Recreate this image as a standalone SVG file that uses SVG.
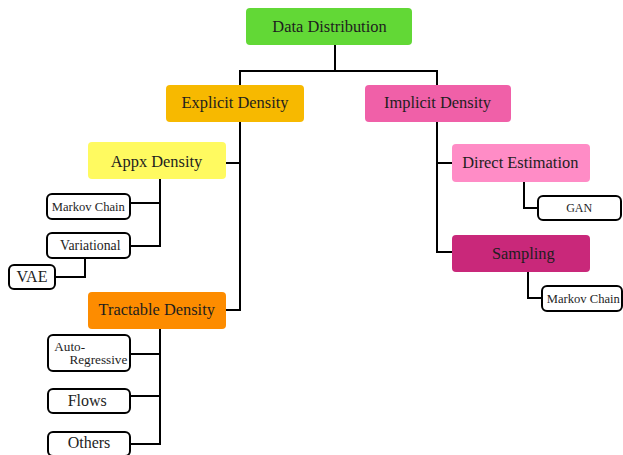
<svg xmlns="http://www.w3.org/2000/svg" width="623" height="455" viewBox="0 0 623 455">
<style>
.c{fill:none;stroke:#000;stroke-width:2}
.w{fill:#fff;stroke:#000;stroke-width:2}
text{font-family:'Liberation Serif','DejaVu Serif',serif;fill:#1e1e1e;text-anchor:middle}
.t{font-size:16.4px}
.mc{font-size:12.6px}
.v{font-size:13.8px}
.g{font-size:12px}
.m{font-size:16px}
.a{font-size:13.2px}
</style>
<rect width="623" height="455" fill="#fff"/>
<g id="connectors">
<path class="c" d="M335 45V71M240 86V71H437V86"/>
<path class="c" d="M226 163H240M240 122V310H226"/>
<path class="c" d="M160 179V246H130M160 203H130"/>
<path class="c" d="M85 257V277H55"/>
<path class="c" d="M160 329V444H130M160 354H130M160 396H130"/>
<path class="c" d="M437 122V252H452M437 163H452"/>
<path class="c" d="M524 181V208H538"/>
<path class="c" d="M528 272V298H542"/>
</g>
<g id="data-distribution"><rect rx="4" x="246" y="8" width="166" height="37" fill="#62d836"/><text class="t" x="329.5" y="32.3">Data Distribution</text></g>
<g id="explicit-density"><rect rx="4" x="166" y="85" width="138" height="37" fill="#f7b900"/><text class="t" x="235" y="108.3">Explicit Density</text></g>
<g id="implicit-density"><rect rx="4" x="365" y="85" width="146" height="37" fill="#f060a8"/><text class="t" x="437.5" y="108.3">Implicit Density</text></g>
<g id="appx-density"><rect rx="4" x="88" y="142" width="138" height="37" fill="#fffa60"/><text class="t" x="156.5" y="167.3">Appx Density</text></g>
<g id="markov-chain-left"><rect class="w" rx="5" x="47" y="194" width="83" height="25"/><text class="mc" x="88.3" y="211">Markov Chain</text></g>
<g id="variational"><rect class="w" rx="5" x="47" y="233" width="83" height="25"/><text class="v" x="90.3" y="250">Variational</text></g>
<g id="vae"><rect class="w" rx="5" x="9" y="265" width="46" height="24"/><text class="m" x="32" y="282">VAE</text></g>
<g id="tractable-density"><rect rx="4" x="88" y="292" width="138" height="37" fill="#fd8c00"/><text class="t" x="156.7" y="315">Tractable Density</text></g>
<g id="auto-regressive"><rect class="w" rx="5" x="48" y="335" width="82" height="36"/><text class="a" x="54.3" y="350.5" style="text-anchor:start">Auto-</text><text class="a" x="127.3" y="363.8" style="text-anchor:end">Regressive</text></g>
<g id="flows"><rect class="w" rx="5" x="48" y="389" width="82" height="24"/><text class="m" x="87.2" y="406">Flows</text></g>
<g id="others"><rect class="w" rx="5" x="48" y="432" width="82" height="24"/><text class="m" x="89" y="447.7">Others</text></g>
<g id="direct-estimation"><rect rx="4" x="452" y="144" width="138" height="38" fill="#ff8cc6"/><text class="t" x="520.3" y="167.7">Direct Estimation</text></g>
<g id="gan"><rect class="w" rx="5" x="538" y="196" width="83" height="24"/><text class="g" x="579.2" y="211.7">GAN</text></g>
<g id="sampling"><rect rx="4" x="452" y="235" width="138" height="37" fill="#c9287a"/><text class="t" x="523.3" y="259.3">Sampling</text></g>
<g id="markov-chain-right"><rect class="w" rx="5" x="542" y="286" width="80" height="25"/><text class="mc" x="583.3" y="303">Markov Chain</text></g>
</svg>
